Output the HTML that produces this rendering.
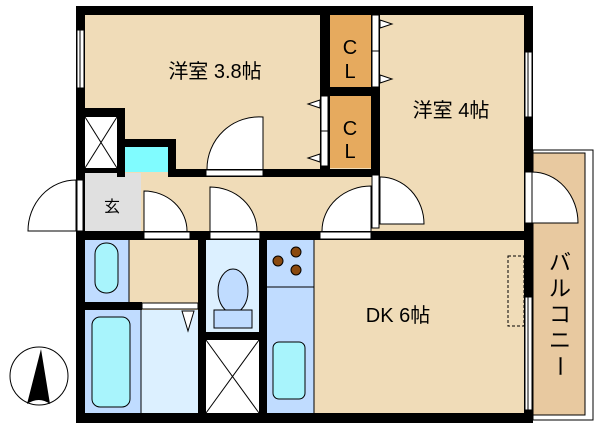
<!DOCTYPE html>
<html><head><meta charset="utf-8"><style>body{margin:0;background:#fff}svg{display:block}text{font-family:"Liberation Sans","Noto Sans CJK JP",sans-serif;fill:#000}</style></head><body>
<svg width="600" height="428" viewBox="0 0 600 428" xmlns="http://www.w3.org/2000/svg">
<rect x="533" y="150" width="60" height="270" fill="#fff" stroke="#000" stroke-width="1"/>
<rect x="533" y="153" width="52" height="262" fill="#e8c9a0" stroke="#000" stroke-width="1"/>
<rect x="85" y="15" width="439" height="398" fill="#f0dcb8"/>
<rect x="330" y="15" width="41" height="153" fill="#e6aa5e"/>
<rect x="85" y="173" width="56" height="58" fill="#e0e0e0"/>
<rect x="125" y="147" width="43" height="25" fill="#80fcff"/>
<rect x="85" y="117" width="32" height="51" fill="#fff"/>
<line x1="85" y1="117" x2="117" y2="168" stroke="#000"/><line x1="117" y1="117" x2="85" y2="168" stroke="#000"/>
<rect x="85" y="240" width="44" height="62" fill="#c0dcff"/>
<line x1="129" y1="240" x2="129" y2="302" stroke="#000"/>
<rect x="85" y="310" width="56" height="103" fill="#c0dcff"/>
<rect x="141" y="310" width="57" height="103" fill="#dcf0ff"/>
<line x1="141" y1="310" x2="141" y2="413" stroke="#000"/>
<rect x="206" y="240" width="53" height="92" fill="#dcf0ff"/>
<rect x="206" y="340" width="53" height="73" fill="#fff"/>
<line x1="206" y1="340" x2="259" y2="413" stroke="#000"/><line x1="259" y1="340" x2="206" y2="413" stroke="#000"/>
<rect x="267" y="240" width="47" height="173" fill="#c0dcff"/>
<line x1="314" y1="240" x2="314" y2="413" stroke="#000"/>
<line x1="267" y1="287" x2="314" y2="287" stroke="#000"/>
<rect x="95" y="243" width="23" height="50" rx="11" fill="#a8f4fc" stroke="#000"/>
<rect x="92" y="317" width="38" height="90" rx="8" fill="#a8f4fc" stroke="#000"/>
<path d="M182 311 L194 311 L188 331Z" fill="#fff" stroke="#000"/>
<ellipse cx="233" cy="291" rx="15" ry="22" fill="#c0dcff" stroke="#000"/>
<rect x="214" y="310" width="38" height="18" fill="#c0dcff" stroke="#000"/>
<rect x="273" y="342" width="32" height="57" rx="6" fill="#a8f4fc" stroke="#000"/>
<circle cx="296" cy="252" r="5" fill="#8a4a10" stroke="#000"/><circle cx="278" cy="261" r="5" fill="#8a4a10" stroke="#000"/><circle cx="296" cy="270" r="5" fill="#8a4a10" stroke="#000"/>
<rect x="508" y="256" width="16" height="70" fill="none" stroke="#000" stroke-dasharray="3,2"/>
<g fill="#000">
<rect x="76" y="6" width="457" height="9"/>
<rect x="76" y="6" width="9" height="417"/>
<rect x="524" y="6" width="9" height="417"/>
<rect x="76" y="413" width="457" height="10"/>
<rect x="320" y="15" width="10" height="162"/>
<rect x="330" y="87" width="41" height="9"/>
<rect x="371" y="15" width="9" height="162"/>
<rect x="176" y="169" width="204" height="8"/>
<rect x="85" y="108" width="40" height="9"/><rect x="117" y="108" width="8" height="69"/><rect x="85" y="168" width="40" height="5"/>
<rect x="117" y="139" width="59" height="8"/><rect x="168" y="139" width="8" height="38"/>
<rect x="76" y="231" width="457" height="9"/>
<rect x="85" y="302" width="57" height="8"/>
<rect x="198" y="240" width="8" height="173"/>
<rect x="206" y="332" width="53" height="8"/>
<rect x="259" y="240" width="8" height="173"/>
</g>
<g fill="#fff" stroke="#000">
<rect x="77" y="30" width="7" height="58"/><line x1="80" y1="30" x2="80" y2="88"/>
<rect x="525" y="52" width="7" height="65"/><line x1="528" y1="52" x2="528" y2="117"/>
<rect x="525" y="297" width="7" height="113"/><line x1="528" y1="297" x2="528" y2="410"/>
<rect x="206" y="170" width="57" height="6"/>
<rect x="144" y="232" width="46" height="7"/><rect x="210" y="232" width="50" height="7"/><rect x="320" y="232" width="51" height="7"/>
<rect x="142" y="303" width="56" height="6"/>
<rect x="77" y="180" width="6" height="51"/>
<rect x="372" y="15" width="7" height="72"/><line x1="372" y1="51" x2="379" y2="51"/>
<rect x="321" y="96" width="7" height="70"/><line x1="321" y1="131" x2="328" y2="131"/>
<rect x="372" y="175" width="7" height="53"/>
<rect x="525" y="172" width="7" height="51"/>
<path d="M263 169 L263 117 A52 52 0 0 0 207 169"/>
<path d="M144 231 L144 191 A43 40 0 0 1 187 231"/>
<path d="M210 231 L210 187 A47 44 0 0 1 257 231"/>
<path d="M371 231 L371 186 A49 45 0 0 0 322 231"/>
<path d="M380 177 L380 224 L424 224 A44 47 0 0 0 380 177"/>
<path d="M532 172 L532 223 L578 223 A46 51 0 0 0 532 172"/>
<path d="M76 180 L76 231 L28 231 A48 51 0 0 1 76 180"/>
<path d="M380 20 L392 24 L380 28Z"/><path d="M380 75 L392 79 L380 83Z"/>
<path d="M320 100 L308 104 L320 108Z"/><path d="M320 154 L308 158 L320 162Z"/>
</g>
<circle cx="39" cy="376" r="29" fill="#fff" stroke="#000"/>
<path d="M41 349 L50 404 Q39 396 27 404Z" fill="#000"/>
<text x="215" y="78" font-size="20" text-anchor="middle">洋室 3.8帖</text>
<text x="451" y="117" font-size="20" text-anchor="middle">洋室 4帖</text>
<text x="350" y="54" font-size="20" text-anchor="middle">C</text><text x="350" y="78" font-size="20" text-anchor="middle">L</text>
<text x="350" y="135" font-size="20" text-anchor="middle">C</text><text x="350" y="158" font-size="20" text-anchor="middle">L</text>
<text x="112" y="212" font-size="16" text-anchor="middle">玄</text>
<text x="398" y="322" font-size="20" text-anchor="middle">DK 6帖</text>
<g font-size="22" text-anchor="middle"><text x="560" y="270">バ</text><text x="560" y="296">ル</text><text x="560" y="322">コ</text><text x="560" y="348">ニ</text><text x="560" y="374" transform="rotate(90 560 366)">ー</text></g>
</svg>
</body></html>
